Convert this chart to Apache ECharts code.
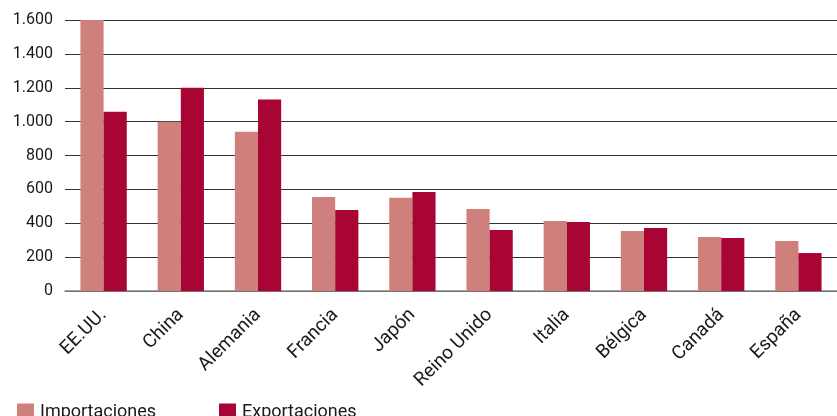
<!DOCTYPE html>
<html><head><meta charset="utf-8">
<script src="https://cdn.jsdelivr.net/npm/echarts@6/dist/echarts.min.js"></script>
<style>html,body{margin:0;padding:0;background:#fff}#c{width:837px;height:416px}</style>
</head><body><div id="c"></div>
<script>
const categories = ['EE.UU.','China','Alemania','Francia','Japón','Reino Unido','Italia','Bélgica','Canadá','España'];
const importaciones = [1600,1000,940,555,550,484,413,354,319,295];
const exportaciones = [1058,1200,1130,478,584,360,407,372,313,224];
const seriesNames = ['Importaciones','Exportaciones'];
const FONT = "Roboto,sans-serif";
const chart = echarts.init(document.getElementById('c'));
chart.setOption({
  animation:false,
  grid:{left:65,right:0,top:20,bottom:125},
  legend:[
    {data:[seriesNames[0]],left:12,top:398,itemWidth:17,itemHeight:17,itemGap:6,icon:'rect',textStyle:{fontFamily:FONT,fontSize:18,color:'#1a1a1a',padding:[0,0,0,1]}},
    {data:[seriesNames[1]],left:214,top:398,itemWidth:17,itemHeight:17,itemGap:6,icon:'rect',textStyle:{fontFamily:FONT,fontSize:18,color:'#1a1a1a',padding:[0,0,0,1]}}
  ],
  xAxis:{type:'category',data:categories,
    axisLine:{lineStyle:{color:'#888',width:1.5}},axisTick:{show:false},
    axisLabel:{rotate:45,fontFamily:FONT,fontSize:19,color:'#1a1a1a',margin:21,interval:0}},
  yAxis:{type:'value',min:0,max:1600,interval:200,
    axisLine:{show:false},axisTick:{show:false},
    splitLine:{lineStyle:{color:'#333',width:1}},
    axisLabel:{fontFamily:FONT,fontSize:16,color:'#1a1a1a',margin:12,
      formatter:v=>String(v).replace(/\B(?=(\d{3})+(?!\d))/g,'.')}},
  series:[
    {name:seriesNames[0],type:'bar',data:importaciones,itemStyle:{color:'#D0807C'},barGap:'0%',barCategoryGap:'40%'},
    {name:seriesNames[1],type:'bar',data:exportaciones,itemStyle:{color:'#A90534'},barGap:'0%',barCategoryGap:'40%'}
  ]
});
</script></body></html>
